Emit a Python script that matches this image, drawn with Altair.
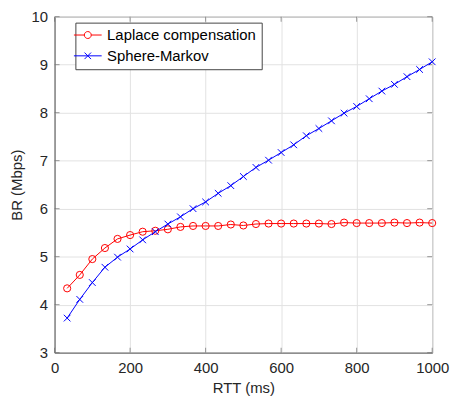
import altair as alt
import pandas as pd

rtt = [33.3, 66.7, 100, 133.3, 166.7, 200, 233.3, 266.7, 300, 333.3,
       366.7, 400, 433.3, 466.7, 500, 533.3, 566.7, 600, 633.3, 666.7,
       700, 733.3, 766.7, 800, 833.3, 866.7, 900, 933.3, 966.7, 1000]
laplace = [4.34, 4.62, 4.95, 5.18, 5.37, 5.45, 5.52, 5.54, 5.57, 5.62,
           5.64, 5.64, 5.64, 5.67, 5.65, 5.68, 5.69, 5.69, 5.69, 5.69,
           5.69, 5.68, 5.71, 5.70, 5.70, 5.70, 5.71, 5.70, 5.71, 5.70]
sphere = [3.72, 4.11, 4.46, 4.78, 4.99, 5.16, 5.35, 5.52, 5.68, 5.83,
          6.00, 6.14, 6.32, 6.48, 6.67, 6.86, 7.01, 7.17, 7.33, 7.52,
          7.67, 7.83, 7.99, 8.13, 8.29, 8.45, 8.59, 8.75, 8.90, 9.06]
series_names = ["Laplace compensation", "Sphere-Markov"]
series_colors = ["#ff0000", "#0000ff"]
x_ticks = [0, 200, 400, 600, 800, 1000]
y_ticks = [3, 4, 5, 6, 7, 8, 9, 10]

df = pd.DataFrame({
    "rtt": rtt + rtt,
    "br": laplace + sphere,
    "series": [series_names[0]] * len(rtt) + [series_names[1]] * len(rtt),
})
xt = pd.DataFrame({"t": x_ticks})
yt = pd.DataFrame({"t": y_ticks})

FONT = "Liberation Sans"
AX = "#6e6e6e"
TXT = "#262626"
FS = 15

circle_leg = "M-2,0L-0.5,0M0.5,0L2,0M-0.5,0A0.5,0.5 0 1,0 0.5,0A0.5,0.5 0 1,0 -0.5,0"
cross_leg = "M-2,0L2,0M-0.47,-0.47L0.47,0.47M-0.47,0.47L0.47,-0.47"
xshape = "M-1,-1L1,1M-1,1L1,-1"

legend = alt.Legend(
    title=None, orient="none", legendX=21, legendY=6,
    fillColor="white", strokeColor="#444444", padding=5,
    labelFont=FONT, labelFontSize=FS, labelColor="black",
    symbolSize=196, symbolStrokeWidth=1, labelOffset=12, rowPadding=5,
    symbolOpacity=1, symbolFillColor="transparent",
)

x_axis = alt.Axis(
    values=x_ticks, format="d", title="RTT (ms)", grid=True, gridColor="#e2e2e2",
    domainColor=AX, ticks=False, labelColor=TXT, titleColor=TXT,
    labelFont=FONT, titleFont=FONT, labelFontSize=FS, titleFontSize=FS,
    titleFontWeight="normal", labelPadding=8, titlePadding=5,
    labelFlush=False,
)
y_axis = alt.Axis(
    values=y_ticks, title="BR (Mbps)", grid=True, gridColor="#e2e2e2",
    domainColor=AX, ticks=False, labelColor=TXT, titleColor=TXT,
    labelFont=FONT, titleFont=FONT, labelFontSize=FS, titleFontSize=FS,
    titleFontWeight="normal", labelPadding=7, titlePadding=7,
    labelFlush=False,
)

xs = alt.Scale(domain=[0, 1000], nice=False, zero=False)
ys = alt.Scale(domain=[3, 10], nice=False, zero=False)
color = alt.Color("series:N", scale=alt.Scale(domain=series_names, range=series_colors), legend=legend)

X = alt.X("rtt:Q", scale=xs, axis=x_axis)
Y = alt.Y("br:Q", scale=ys, axis=y_axis)

base = alt.Chart(df).encode(x=X, y=Y, color=color)
lines = base.mark_line(strokeWidth=1)
pts_red = base.transform_filter(alt.datum.series == series_names[0]).mark_point(
    filled=False, strokeWidth=1, size=52, opacity=1).encode(shape=alt.value("circle"))
pts_blue = base.transform_filter(alt.datum.series == series_names[1]).mark_point(
    filled=False, strokeWidth=1, size=45, opacity=1).encode(shape=alt.value(xshape))
leg_layer = base.mark_point(filled=False, size=0, strokeWidth=1).encode(
    shape=alt.Shape("series:N", scale=alt.Scale(domain=series_names, range=[circle_leg, cross_leg]), legend=legend)
)

tick_bottom = alt.Chart(xt).mark_tick(orient="vertical", size=5, thickness=1, color=AX, yOffset=-2.5).encode(
    x=alt.X("t:Q", scale=xs, axis=x_axis), y=alt.Y(datum=3, scale=ys, axis=y_axis))
tick_top = alt.Chart(xt).mark_tick(orient="vertical", size=5, thickness=1, color=AX, yOffset=2.5).encode(
    x=alt.X("t:Q", scale=xs, axis=x_axis), y=alt.Y(datum=10, scale=ys, axis=y_axis))
tick_left = alt.Chart(yt).mark_tick(orient="horizontal", size=5, thickness=1, color=AX, xOffset=2.5).encode(
    y=alt.Y("t:Q", scale=ys, axis=y_axis), x=alt.X(datum=0, scale=xs, axis=x_axis))
tick_right = alt.Chart(yt).mark_tick(orient="horizontal", size=5, thickness=1, color=AX, xOffset=-2.5).encode(
    y=alt.Y("t:Q", scale=ys, axis=y_axis), x=alt.X(datum=1000, scale=xs, axis=x_axis))

chart = alt.layer(tick_bottom, tick_top, tick_left, tick_right, lines, pts_red, pts_blue, leg_layer).properties(
    width=381, height=339,
    autosize=alt.AutoSizeParams(type="none"),
    padding={"left": 47, "top": 7, "right": 20, "bottom": 46},
).configure_view(stroke=AX, strokeWidth=1)

chart.save("out.html", embed_options={"renderer": "svg", "actions": False})
